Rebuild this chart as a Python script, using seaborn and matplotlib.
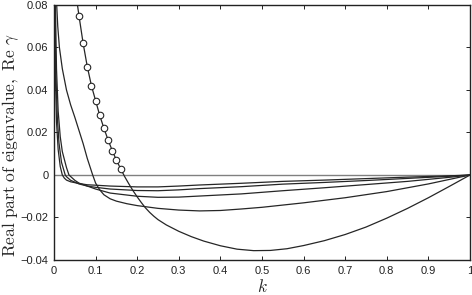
import matplotlib
matplotlib.use('Agg')
import matplotlib.pyplot as plt
import pandas as pd
import seaborn as sns

# curve with markers
k_a = [0.05, 0.055, 0.06, 0.07, 0.08, 0.09, 0.10, 0.11, 0.12, 0.13, 0.14, 0.15, 0.16, 0.17, 0.18,
       0.19, 0.20, 0.21, 0.22, 0.23, 0.24, 0.25, 0.27, 0.30, 0.33, 0.36, 0.40, 0.44, 0.48, 0.52,
       0.56, 0.60, 0.65, 0.70, 0.75, 0.80, 0.85, 0.90, 0.95, 1.00]
re_a = [0.095, 0.082, 0.075, 0.062, 0.051, 0.042, 0.035, 0.028, 0.022, 0.0165, 0.0115, 0.007, 0.003,
        -0.0008, -0.0042, -0.0074, -0.0103, -0.0130, -0.0155, -0.0176, -0.0194, -0.0210, -0.0235,
        -0.0265, -0.0290, -0.0311, -0.0333, -0.0349, -0.0356, -0.0355, -0.0347, -0.0332, -0.0309,
        -0.0280, -0.0245, -0.0203, -0.0157, -0.0107, -0.0054, 0.0]
marker_k = [0.06, 0.07, 0.08, 0.09, 0.10, 0.11, 0.12, 0.13, 0.14, 0.15, 0.16]
marker_re = [0.075, 0.062, 0.051, 0.042, 0.035, 0.028, 0.022, 0.0165, 0.0115, 0.007, 0.003]

k_b = [0.004, 0.006, 0.009, 0.013, 0.02, 0.03, 0.04, 0.05, 0.06, 0.07, 0.08, 0.09, 0.093, 0.10,
       0.11, 0.12, 0.135, 0.15, 0.175, 0.20, 0.25, 0.30, 0.35, 0.40, 0.45, 0.50, 0.60, 0.70, 0.80,
       0.90, 1.00]
re_b = [0.095, 0.082, 0.070, 0.060, 0.050, 0.040, 0.033, 0.0272, 0.021, 0.0148, 0.0078, 0.0018,
        0.0, -0.0038, -0.0070, -0.0093, -0.0112, -0.0123, -0.0135, -0.0144, -0.0157, -0.0165,
        -0.0169, -0.0167, -0.0160, -0.0152, -0.0131, -0.0107, -0.0078, -0.0042, 0.0]

k_c = [0.003, 0.006, 0.01, 0.015, 0.02, 0.03, 0.036, 0.05, 0.06, 0.08, 0.10, 0.135, 0.20, 0.25,
       0.30, 0.35, 0.45, 0.55, 0.65, 0.75, 0.85, 0.95, 1.00]
re_c = [0.085, 0.05, 0.03, 0.018, 0.011, 0.0035, 0.0, -0.0025, -0.0038, -0.0052, -0.0066, -0.0085,
        -0.0100, -0.0105, -0.0104, -0.0099, -0.0089, -0.0074, -0.0060, -0.0045, -0.0030, -0.0011, 0.0]

k_d = [0.002, 0.004, 0.008, 0.012, 0.018, 0.027, 0.03, 0.04, 0.06, 0.08, 0.10, 0.135, 0.20, 0.25,
       0.30, 0.35, 0.45, 0.55, 0.65, 0.75, 0.85, 0.95, 1.00]
re_d = [0.085, 0.05, 0.027, 0.015, 0.006, 0.0, -0.0008, -0.0025, -0.0042, -0.0052, -0.0058,
        -0.0066, -0.0073, -0.0074, -0.0070, -0.0064, -0.0055, -0.0043, -0.0035, -0.0026, -0.0016,
        -0.0006, 0.0]

k_e = [0.001, 0.003, 0.006, 0.01, 0.015, 0.02, 0.025, 0.03, 0.04, 0.06, 0.08, 0.10, 0.135, 0.20,
       0.25, 0.30, 0.35, 0.45, 0.55, 0.65, 0.75, 0.85, 0.95, 1.00]
re_e = [0.085, 0.05, 0.025, 0.012, 0.004, 0.0, -0.0015, -0.0024, -0.0032, -0.0040, -0.0046,
        -0.0048, -0.0052, -0.0056, -0.0056, -0.0052, -0.0047, -0.0039, -0.0030, -0.0024, -0.0017,
        -0.0010, -0.0004, 0.0]

x_ticks = [0, 0.1, 0.2, 0.3, 0.4, 0.5, 0.6, 0.7, 0.8, 0.9, 1]
x_labels = ['0', '0.1', '0.2', '0.3', '0.4', '0.5', '0.6', '0.7', '0.8', '0.9', '1']
y_ticks = [-0.04, -0.02, 0, 0.02, 0.04, 0.06, 0.08]
y_labels = ['\u22120.04', '\u22120.02', '0', '0.02', '0.04', '0.06', '0.08']

sns.set_style('ticks')
plt.rcParams['font.family'] = ['Liberation Sans', 'DejaVu Sans']
plt.rcParams['mathtext.fontset'] = 'cm'

fig = plt.figure(figsize=(4.72, 2.95), dpi=100)
ax = fig.add_axes([54 / 472, 1 - 260 / 295, 416 / 472, 255 / 295])

# zero line
ax.axhline(0, color='#808080', lw=1.0, zorder=1)

line_color = '#262626'
for kk, rr in [(k_e, re_e), (k_d, re_d), (k_c, re_c), (k_b, re_b), (k_a, re_a)]:
    df = pd.DataFrame({'k': kk, 're': rr})
    sns.lineplot(data=df, x='k', y='re', ax=ax, color=line_color, lw=0.9,
                 sort=False, estimator=None, zorder=2)

df_m = pd.DataFrame({'k': marker_k, 're': marker_re})
sns.scatterplot(data=df_m, x='k', y='re', ax=ax, marker='o', s=22, facecolor='white',
                edgecolor=line_color, linewidth=0.8, zorder=3)

ax.set_xlim(0, 1)
ax.set_ylim(-0.04, 0.08)
ax.set_xticks(x_ticks)
ax.set_xticklabels(x_labels)
ax.set_yticks(y_ticks)
ax.set_yticklabels(y_labels)
ax.tick_params(direction='in', top=True, right=True, length=3, width=0.7,
               labelsize=8, colors='#222222', pad=4)
for s in ax.spines.values():
    s.set_linewidth(1.0)
    s.set_color('#222222')

ax.set_xlabel(r'$k$', fontsize=12.5, labelpad=2)
ax.set_ylabel(r'$\mathrm{Real\ part\ of\ eigenvalue,\ Re}\ \gamma$', fontsize=12.5)
ax.yaxis.set_label_coords(-0.080, 0.45)

plt.savefig('out.png', dpi=100)
